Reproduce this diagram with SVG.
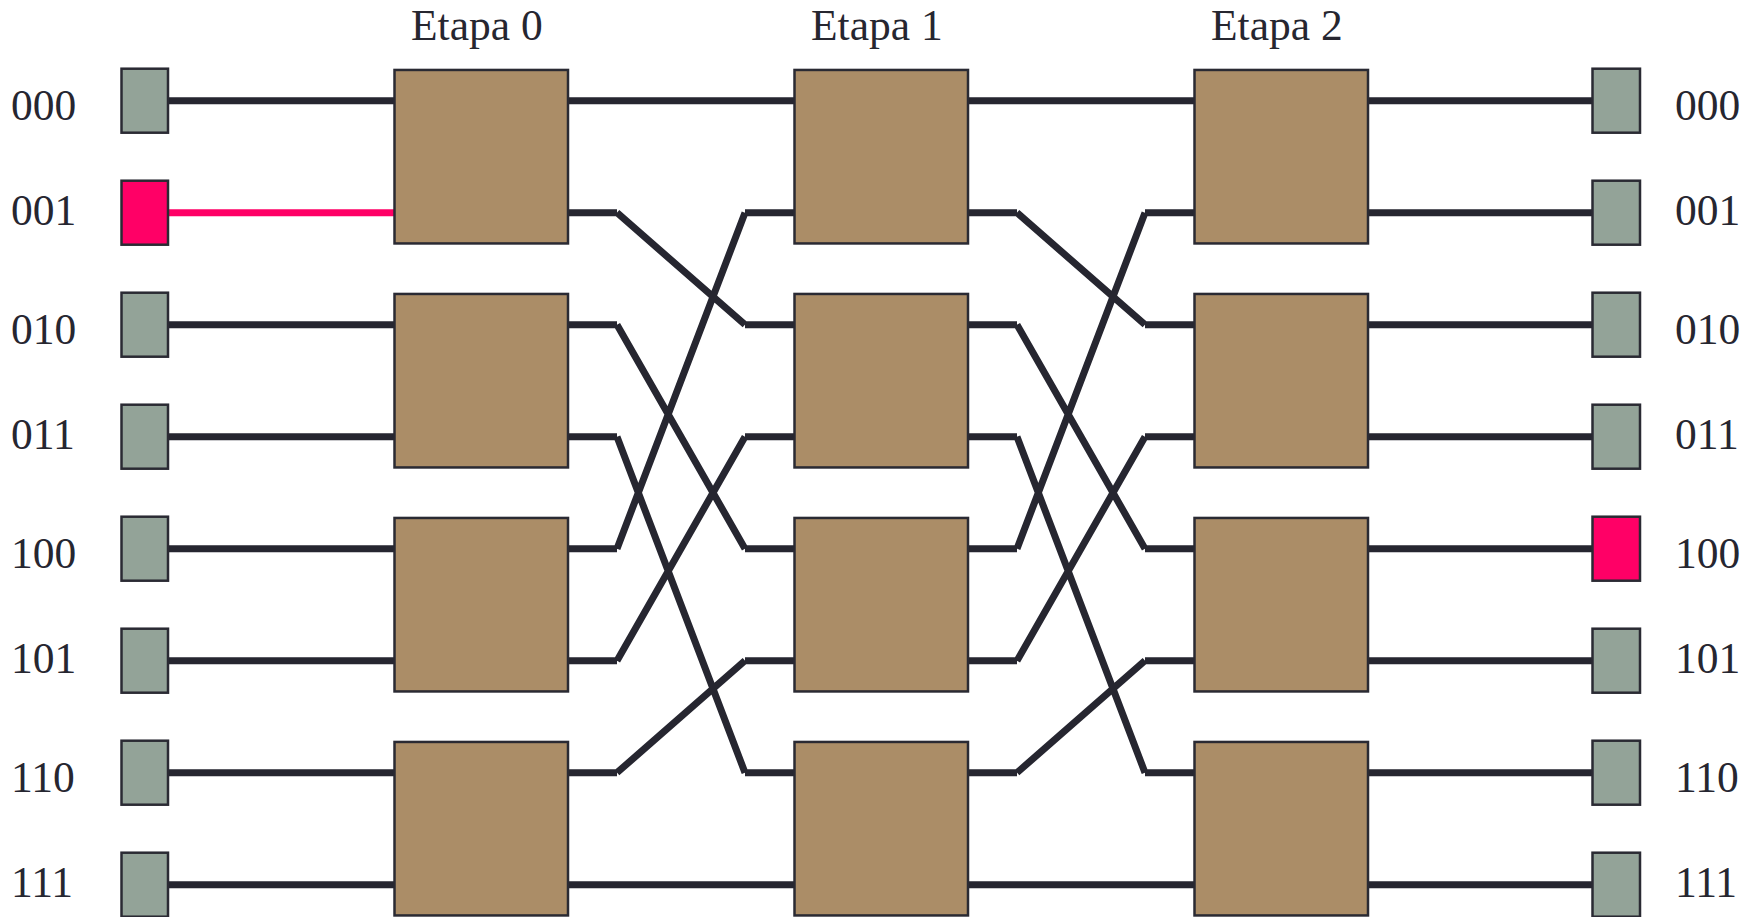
<svg xmlns="http://www.w3.org/2000/svg" width="1760" height="917" viewBox="0 0 1760 917">
<style>
.lbl{font-family:"Liberation Serif","Times New Roman",serif;font-size:43.5px;fill:#262630}
.sw{fill:#ab8d67;stroke:#2a2a33;stroke-width:2.5}
.io{fill:#93a398;stroke:#2a2a33;stroke-width:2.5}
.hi{fill:#ff0066;stroke:#2a2a33;stroke-width:2.5}
.w{fill:none;stroke:#262630;stroke-width:7;stroke-linecap:butt}
.wr{fill:none;stroke:#ff0066;stroke-width:7;stroke-linecap:butt}
</style>
<rect width="1760" height="917" fill="#ffffff"/>
<g id="connectors">
<path class="w" d="M168 100.7H396 M168 324.7H396 M168 436.7H396 M168 548.7H396 M168 660.7H396 M168 772.7H396 M168 884.7H396"/>
<path class="wr" d="M168 212.7H396"/>
<path class="w" d="M566 100.7H796 M566 884.7H796
M566 212.7H617 M617 212.7L745 324.7 M745 324.7H796
M566 324.7H617 M617 324.7L745 548.7 M745 548.7H796
M566 436.7H617 M617 436.7L745 772.7 M745 772.7H796
M566 548.7H617 M617 548.7L745 212.7 M745 212.7H796
M566 660.7H617 M617 660.7L745 436.7 M745 436.7H796
M566 772.7H617 M617 772.7L745 660.7 M745 660.7H796"/>
<path class="w" d="M966 100.7H1196 M966 884.7H1196
M966 212.7H1017 M1017 212.7L1145 324.7 M1145 324.7H1196
M966 324.7H1017 M1017 324.7L1145 548.7 M1145 548.7H1196
M966 436.7H1017 M1017 436.7L1145 772.7 M1145 772.7H1196
M966 548.7H1017 M1017 548.7L1145 212.7 M1145 212.7H1196
M966 660.7H1017 M1017 660.7L1145 436.7 M1145 436.7H1196
M966 772.7H1017 M1017 772.7L1145 660.7 M1145 660.7H1196"/>
<path class="w" d="M1366 100.7H1594 M1366 212.7H1594 M1366 324.7H1594 M1366 436.7H1594 M1366 548.7H1594 M1366 660.7H1594 M1366 772.7H1594 M1366 884.7H1594"/>
</g>
<g id="stage-labels">
<text class="lbl" x="411" y="40">Etapa 0</text>
<text class="lbl" x="811" y="40">Etapa 1</text>
<text class="lbl" x="1211" y="40">Etapa 2</text>
</g>
<g id="in-000"><rect class="io" x="121.5" y="68.7" width="46.5" height="64"/><text class="lbl" x="11" y="120.2">000</text></g>
<g id="in-001"><rect class="hi" x="121.5" y="180.7" width="46.5" height="64"/><text class="lbl" x="11" y="225">001</text></g>
<g id="in-010"><rect class="io" x="121.5" y="292.7" width="46.5" height="64"/><text class="lbl" x="11" y="344.2">010</text></g>
<g id="in-011"><rect class="io" x="121.5" y="404.7" width="46.5" height="64"/><text class="lbl" x="11" y="449">011</text></g>
<g id="in-100"><rect class="io" x="121.5" y="516.7" width="46.5" height="64"/><text class="lbl" x="11" y="568.2">100</text></g>
<g id="in-101"><rect class="io" x="121.5" y="628.7" width="46.5" height="64"/><text class="lbl" x="11" y="673">101</text></g>
<g id="in-110"><rect class="io" x="121.5" y="740.7" width="46.5" height="64"/><text class="lbl" x="11" y="792.2">110</text></g>
<g id="in-111"><rect class="io" x="121.5" y="852.7" width="46.5" height="64"/><text class="lbl" x="11" y="897">111</text></g>
<g id="s0-0"><rect class="sw" x="394.5" y="69.95" width="173.5" height="173.5"/></g>
<g id="s0-1"><rect class="sw" x="394.5" y="293.95" width="173.5" height="173.5"/></g>
<g id="s0-2"><rect class="sw" x="394.5" y="517.95" width="173.5" height="173.5"/></g>
<g id="s0-3"><rect class="sw" x="394.5" y="741.95" width="173.5" height="173.5"/></g>
<g id="s1-0"><rect class="sw" x="794.5" y="69.95" width="173.5" height="173.5"/></g>
<g id="s1-1"><rect class="sw" x="794.5" y="293.95" width="173.5" height="173.5"/></g>
<g id="s1-2"><rect class="sw" x="794.5" y="517.95" width="173.5" height="173.5"/></g>
<g id="s1-3"><rect class="sw" x="794.5" y="741.95" width="173.5" height="173.5"/></g>
<g id="s2-0"><rect class="sw" x="1194.5" y="69.95" width="173.5" height="173.5"/></g>
<g id="s2-1"><rect class="sw" x="1194.5" y="293.95" width="173.5" height="173.5"/></g>
<g id="s2-2"><rect class="sw" x="1194.5" y="517.95" width="173.5" height="173.5"/></g>
<g id="s2-3"><rect class="sw" x="1194.5" y="741.95" width="173.5" height="173.5"/></g>
<g id="out-000"><rect class="io" x="1592.5" y="68.7" width="47.5" height="64"/><text class="lbl" x="1675" y="120.2">000</text></g>
<g id="out-001"><rect class="io" x="1592.5" y="180.7" width="47.5" height="64"/><text class="lbl" x="1675" y="225">001</text></g>
<g id="out-010"><rect class="io" x="1592.5" y="292.7" width="47.5" height="64"/><text class="lbl" x="1675" y="344.2">010</text></g>
<g id="out-011"><rect class="io" x="1592.5" y="404.7" width="47.5" height="64"/><text class="lbl" x="1675" y="449">011</text></g>
<g id="out-100"><rect class="hi" x="1592.5" y="516.7" width="47.5" height="64"/><text class="lbl" x="1675" y="568.2">100</text></g>
<g id="out-101"><rect class="io" x="1592.5" y="628.7" width="47.5" height="64"/><text class="lbl" x="1675" y="673">101</text></g>
<g id="out-110"><rect class="io" x="1592.5" y="740.7" width="47.5" height="64"/><text class="lbl" x="1675" y="792.2">110</text></g>
<g id="out-111"><rect class="io" x="1592.5" y="852.7" width="47.5" height="64"/><text class="lbl" x="1675" y="897">111</text></g>
</svg>
